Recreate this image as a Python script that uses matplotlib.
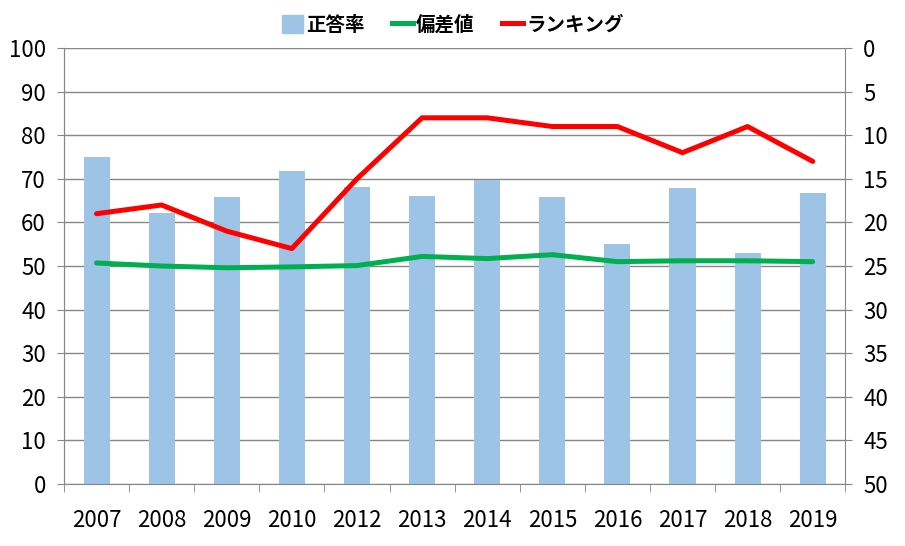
import numpy as np
import matplotlib.pyplot as plt
from matplotlib.patches import Patch
from matplotlib.lines import Line2D

plt.rcParams['font.family'] = ['Noto Sans CJK JP', 'DejaVu Sans']

years = ['2007', '2008', '2009', '2010', '2012', '2013', '2014', '2015', '2016', '2017', '2018', '2019']
seitou = [75.0, 62.2, 65.8, 71.8, 68.1, 66.0, 69.7, 65.8, 55.0, 67.9, 53.0, 66.7]
hensa = [50.7, 50.0, 49.6, 49.8, 50.1, 52.2, 51.7, 52.6, 51.0, 51.2, 51.2, 51.0]
rank = [19, 18, 21, 23, 15, 8, 8, 9, 9, 12, 9, 13]

c_bar = '#9DC3E6'
c_green = '#00B050'
c_red = '#FF0000'
c_grid = '#868686'
lw = 3.6

fig = plt.figure(figsize=(9.05, 5.46), dpi=100)
ax = fig.add_axes([0.0707, 0.1136, 0.8633, 0.7984])
x = np.arange(len(years))

ax.bar(x, seitou, width=0.4, color=c_bar, zorder=2)
ax.plot(x, hensa, color=c_green, lw=lw, zorder=3, solid_capstyle='round')
ax.set_ylim(0, 100)
ax.set_xlim(-0.5, len(years) - 0.5)
ax.set_yticks(np.arange(0, 101, 10))
ax.yaxis.grid(True, color=c_grid, lw=1)
ax.set_axisbelow(True)

ax2 = ax.twinx()
ax2.plot(x, rank, color=c_red, lw=lw, zorder=3, solid_capstyle='round')
ax2.set_ylim(50, 0)
ax2.set_yticks(np.arange(0, 51, 5))

ax.set_xticks(x)
ax.set_xticklabels(years)
ax.set_xticks(np.arange(-0.5, len(years), 1), minor=True)
ax.tick_params(axis='x', which='major', length=0, pad=18, labelsize=16)
ax.tick_params(axis='x', which='minor', length=6, color=c_grid)
ax.tick_params(axis='y', length=5, color=c_grid, pad=8, labelsize=16)
ax2.tick_params(axis='y', length=5, color=c_grid, pad=8, labelsize=16)

for a in (ax, ax2):
    a.spines['top'].set_visible(False)
    for s in ('left', 'right', 'bottom'):
        a.spines[s].set_color(c_grid)
ax2.spines['bottom'].set_visible(False)
ax.spines['right'].set_visible(False)

handles = [Patch(color=c_bar),
           Line2D([0], [0], color=c_green, lw=lw),
           Line2D([0], [0], color=c_red, lw=lw)]
fig.legend(handles, ['正答率', '偏差値', 'ランキング'], loc='center', bbox_to_anchor=(0.5, 0.955),
           ncol=3, frameon=False, prop={'weight': 'bold', 'size': 14},
           handlelength=1.1, handleheight=1.1, handletextpad=0.15, columnspacing=1.4)

fig.savefig('out.png', dpi=100)
